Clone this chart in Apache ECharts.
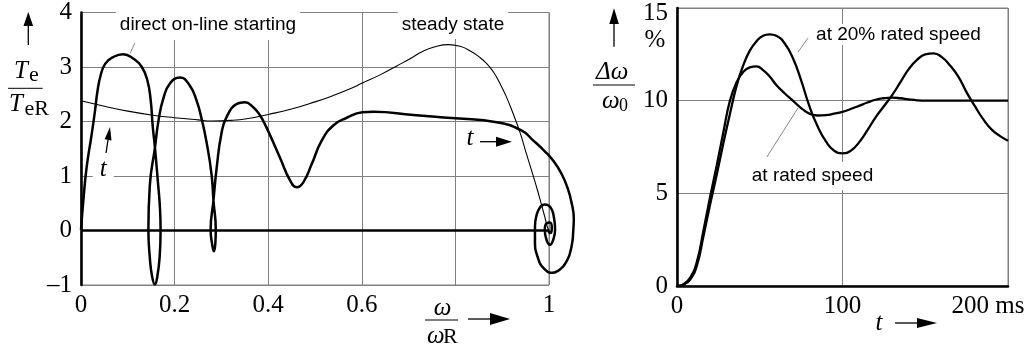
<!DOCTYPE html>
<html>
<head>
<meta charset="utf-8">
<script src="https://cdn.jsdelivr.net/npm/echarts@6/dist/echarts.min.js"></script>
<style>
  html, body { margin: 0; padding: 0; background: #fff; }
  #chart { width: 1029px; height: 349px; }
</style>
</head>
<body>
<div id="chart"></div>
<script>
// left: torque against speed, direct on-line starting (omega/omegaR, Te/TeR)
var startSpeed = [0, 0.005, 0.012, 0.023, 0.030, 0.035, 0.042, 0.052, 0.069, 0.090, 0.112, 0.130, 0.142, 0.149, 0.153, 0.158, 0.164, 0.169, 0.170, 0.168, 0.163, 0.158, 0.152, 0.147, 0.144, 0.147, 0.158, 0.166, 0.176, 0.190, 0.2115, 0.232, 0.247, 0.258, 0.268, 0.279, 0.283, 0.288, 0.287, 0.284, 0.280, 0.277, 0.283, 0.290, 0.300, 0.311, 0.333, 0.350, 0.368, 0.382, 0.396, 0.425, 0.447, 0.461, 0.475, 0.493, 0.514, 0.539, 0.568, 0.601, 0.625, 0.710, 0.800, 0.888, 0.941, 0.966, 0.990, 1.010, 1.027, 1.040, 1.048, 1.053, 1.052, 1.048, 1.035, 1.020, 1.008, 0.990, 0.976, 0.970, 0.970, 0.973, 0.981, 0.991, 1.003, 1.010, 1.013, 1.009, 1.002, 0.995, 0.991, 0.995, 1.002, 1.006, 1.002, 0.998, 1.000];
var startTorque = [0, 0.53, 1.13, 1.74, 2.16, 2.50, 2.80, 3.01, 3.13, 3.18, 3.10, 2.95, 2.70, 2.34, 1.90, 1.49, 0.90, 0.35, 0, -0.50, -0.85, -0.99, -0.85, -0.50, 0, 0.80, 1.49, 2.00, 2.38, 2.65, 2.76, 2.62, 2.34, 2.00, 1.60, 1.00, 0.53, 0, -0.25, -0.39, -0.25, 0, 0.53, 1.13, 1.74, 2.04, 2.28, 2.31, 2.22, 2.08, 1.86, 1.31, 0.89, 0.77, 0.86, 1.19, 1.61, 1.89, 2.03, 2.13, 2.14, 2.08, 2.02, 1.95, 1.80, 1.62, 1.43, 1.24, 1.01, 0.75, 0.50, 0.20, 0, -0.31, -0.61, -0.74, -0.78, -0.71, -0.50, -0.20, 0.05, 0.25, 0.41, 0.46, 0.41, 0.25, 0, -0.18, -0.27, -0.19, 0, 0.12, 0.13, 0.03, -0.06, 0, 0];
// steady state torque curve
var steadySpeed = [0, 0.05, 0.10, 0.15, 0.20, 0.25, 0.28, 0.32, 0.354, 0.40, 0.45, 0.50, 0.54, 0.575, 0.60, 0.64, 0.675, 0.705, 0.731, 0.76, 0.785, 0.81, 0.831, 0.85, 0.867, 0.882, 0.895, 0.908, 0.92, 0.938, 0.952, 0.966, 0.976, 0.984, 0.991, 0.996, 1.0];
var steadyTorque = [2.38, 2.28, 2.19, 2.12, 2.07, 2.03, 2.01, 2.02, 2.05, 2.13, 2.23, 2.36, 2.48, 2.60, 2.70, 2.86, 3.02, 3.16, 3.29, 3.38, 3.41, 3.38, 3.30, 3.19, 3.06, 2.90, 2.70, 2.47, 2.22, 1.80, 1.40, 1.01, 0.72, 0.47, 0.25, 0.08, 0];

// right: speed deviation (%) against time (ms)
var timeMs = [0, 4, 8, 12, 16, 20, 24, 28, 32, 36, 40, 44, 48, 52, 56, 60, 65, 70, 75, 80, 85, 90, 95, 100, 105, 110, 115, 120, 125, 130, 135, 140, 145, 150, 155, 160, 165, 170, 175, 180, 185, 190, 195, 200];
var dwRated = [0, 0.1, 0.45, 1.3, 3.0, 4.8, 6.5, 8.3, 10.0, 11.0, 11.55, 11.8, 11.85, 11.65, 11.3, 10.85, 10.4, 10.0, 9.6, 9.3, 9.2, 9.22, 9.3, 9.4, 9.55, 9.72, 9.9, 10.05, 10.13, 10.16, 10.13, 10.07, 10.02, 10.0, 10.0, 10.0, 10.0, 10.0, 10.0, 10.0, 10.0, 10.0, 10.0, 10.0];
var dw20 = [0, 0.08, 0.35, 1.1, 2.7, 4.4, 6.0, 7.7, 9.3, 10.8, 11.9, 12.7, 13.2, 13.5, 13.58, 13.5, 13.1, 12.3, 11.1, 9.7, 8.6, 7.8, 7.3, 7.16, 7.3, 7.75, 8.4, 9.1, 9.7, 10.3, 11.0, 11.7, 12.2, 12.5, 12.55, 12.35, 11.9, 11.3, 10.45, 9.7, 9.0, 8.45, 8.1, 7.84];

// tick labels
var leftXTicks = [0, 0.2, 0.4, 0.6, 0.8, 1];
var leftXLabels = ['0', '0.2', '0.4', '0.6', '', '1'];
var leftYTicks = [-1, 0, 1, 2, 3, 4];
var leftYLabels = ['\u20131', '0', '1', '2', '3', '4'];
var rightXTicks = [0, 100, 200];
var rightXLabels = ['0', '100', '200 ms'];
var rightYTicks = [0, 5, 10, 15];
var rightYLabels = ['0', '5', '10', '15'];

// leader lines of the annotations and the zero line (data units)
var zeroLine = [[0, 0], [1, 0]];
var leaderStart = [[0.115, 3.44], [0.105, 3.25]];
var leader20 = [[79.2, 13.38], [73.1, 12.62]];
var leaderRated = [[54.3, 6.96], [73.1, 9.6]];

var SERIF = "'Liberation Serif', 'Times New Roman', serif";
var SANS = "'Liberation Sans', Arial, sans-serif";
var GRIDC = '#808080';

function zip(xs, ys) {
  return xs.map(function (x, i) { return [x, ys[i]]; });
}
function pick(ticks, labels) {
  return function (v) {
    for (var i = 0; i < ticks.length; i++) {
      if (Math.abs(v - ticks[i]) < 1e-6) return labels[i];
    }
    return '';
  };
}
function leader(pts, style) {
  var a = { coord: pts[0] };
  if (style) a.lineStyle = style;
  return [a, { coord: pts[1] }];
}

var chart = echarts.init(document.getElementById('chart'));

// text helpers for titles and notes
function txt(x, y, s, size, opt) {
  opt = opt || {};
  return {
    type: 'text', x: x, y: y, z: opt.z || 5,
    style: {
      text: s,
      fontFamily: opt.family || SERIF,
      fontSize: size,
      fontStyle: opt.italic ? 'italic' : 'normal',
      fill: '#000',
      align: opt.align || 'left',
      verticalAlign: 'middle',
      backgroundColor: opt.bg,
      padding: opt.padding
    }
  };
}
function seg(x1, y1, x2, y2, w, color) {
  return { type: 'line', z: 5, shape: { x1: x1, y1: y1, x2: x2, y2: y2 },
    style: { stroke: color || '#000', lineWidth: w || 1.3 } };
}
function tri(pts) {
  return { type: 'polygon', z: 5, shape: { points: pts }, style: { fill: '#000' } };
}

var graphics = [
  // left y title
  seg(28.3, 45, 28.3, 24), tri([[23.5, 26], [33.1, 26], [28.3, 12]]),
  txt(14, 71.7, 'T', 25, { italic: true }),
  txt(29, 75.6, 'e', 22),
  seg(8, 88.3, 42.7, 88.3, 1),
  txt(9, 104.2, 'T', 25, { italic: true }),
  txt(24.5, 109, 'eR', 22),
  // left x title
  txt(442.5, 308.3, '\u03c9', 25, { italic: true, align: 'center' }),
  seg(425, 320, 458, 320, 1),
  txt(427, 336.3, '\u03c9', 25, { italic: true }),
  txt(443, 337.5, 'R', 22),
  seg(468, 319, 492, 319), tri([[490, 313], [490, 325], [510, 319]]),
  // right y title
  seg(614, 46.7, 614, 22), tri([[609.3, 24], [618.9, 24], [614, 8.3]]),
  txt(655, 40, '%', 25, { align: 'center' }),
  txt(596, 72.5, '\u0394\u03c9', 25, { italic: true }),
  seg(593, 85, 635, 85, 1),
  txt(602, 101.5, '\u03c9', 25, { italic: true }),
  txt(619, 106, '0', 18),
  // right x title
  txt(879, 323.5, 't', 25, { italic: true, align: 'center' }),
  seg(895, 323, 919, 323), tri([[917, 318], [917, 328], [937, 323]]),
  // time arrows inside left plot
  txt(103.3, 169.3, 't', 25, { italic: true, align: 'center', bg: '#fff', padding: [0, 7, 0, 7], z: 1 }),
  seg(106, 153, 108, 140), tri([[111.5, 140.4], [104.6, 139.3], [110, 127]]),
  txt(470, 138.8, 't', 25, { italic: true, align: 'center' }),
  seg(480, 141.7, 498, 141.7), tri([[496, 136.7], [496, 146.7], [512, 141.7]]),
  // notes
  txt(208, 24.4, 'direct on-line starting', 19, { family: SANS, align: 'center', bg: '#fff', padding: [4, 4, 8, 4], z: 1 }),
  txt(453, 24.4, 'steady state', 19, { family: SANS, align: 'center', bg: '#fff', padding: [4, 4, 6, 4], z: 1 }),
  txt(898.5, 34.4, 'at 20% rated speed', 19, { family: SANS, align: 'center', bg: '#fff', padding: [2, 4, 0, 4], z: 1 }),
  txt(812.5, 176, 'at rated speed', 19, { family: SANS, align: 'center', bg: '#fff', padding: [2, 4, 7, 4], z: 1 })
];

var leaderStyle = { color: '#6a6a6a', width: 0.8, type: 'solid' };
var hiddenAxis = { show: false, axisLine: { show: false }, splitLine: { show: false }, axisLabel: { show: false }, axisTick: { show: false } };

chart.setOption({
  animation: false,
  backgroundColor: '#fff',
  grid: [
    { left: 81, top: 9, width: 468, height: 276, show: true, borderColor: GRIDC, borderWidth: 1, backgroundColor: 'transparent' },
    { left: 677, top: 8, width: 331, height: 278, show: true, borderColor: GRIDC, borderWidth: 1, backgroundColor: 'transparent' },
    // same scale as the left plot, but wider so the speed overshoot past 1 is not cut off
    { left: 81, top: 9, width: 468 * 1.1, height: 276, show: false }
  ],
  xAxis: [
    {
      gridIndex: 0, type: 'value', min: 0, max: 1, interval: 0.2,
      axisLine: { show: true, lineStyle: { color: GRIDC, width: 1 } },
      axisTick: { show: false },
      splitLine: { show: true, lineStyle: { color: GRIDC, width: 1 } },
      axisLabel: { formatter: pick(leftXTicks, leftXLabels), fontFamily: SERIF, fontSize: 25, color: '#000', margin: 8 }
    },
    {
      gridIndex: 1, type: 'value', min: 0, max: 200, interval: 100,
      axisLine: { show: true, lineStyle: { color: '#000', width: 2.6 } },
      axisTick: { show: false },
      splitLine: { show: true, lineStyle: { color: GRIDC, width: 1 } },
      axisLabel: {
        formatter: function (v) {
          var s = pick(rightXTicks, rightXLabels)(v);
          return v === 200 ? '{ms|' + s + '}' : s;
        },
        rich: { ms: { fontFamily: SERIF, fontSize: 25, color: '#000', padding: [0, 40, 0, 0] } },
        fontFamily: SERIF, fontSize: 25, color: '#000', margin: 8
      }
    },
    Object.assign({ gridIndex: 2, type: 'value', min: 0, max: 1.1 }, hiddenAxis)
  ],
  yAxis: [
    {
      gridIndex: 0, type: 'value', min: -1, max: 4, interval: 1,
      axisLine: { show: true, lineStyle: { color: '#000', width: 2.6 } },
      axisTick: { show: false },
      splitLine: { show: true, lineStyle: { color: GRIDC, width: 1 } },
      axisLabel: { formatter: pick(leftYTicks, leftYLabels), fontFamily: SERIF, fontSize: 25, color: '#000', margin: 9, padding: [5, 0, 0, 0] }
    },
    {
      gridIndex: 1, type: 'value', min: 0, max: 15, interval: 5,
      axisLine: { show: true, lineStyle: { color: '#000', width: 2.6 } },
      axisTick: { show: false },
      splitLine: { show: true, lineStyle: { color: GRIDC, width: 1 } },
      axisLabel: {
        formatter: function (v) {
          var s = pick(rightYTicks, rightYLabels)(v);
          return v === 15 ? '{top|' + s + '}' : s;
        },
        rich: { top: { fontFamily: SERIF, fontSize: 25, color: '#000', padding: [10, 0, 0, 0] } },
        fontFamily: SERIF, fontSize: 25, color: '#000', margin: 9
      }
    },
    Object.assign({ gridIndex: 2, type: 'value', min: -1, max: 4 }, hiddenAxis)
  ],
  series: [
    {
      name: 'steady state', type: 'line', xAxisIndex: 0, yAxisIndex: 0,
      data: zip(steadySpeed, steadyTorque),
      showSymbol: false, smooth: true,
      lineStyle: { color: '#000', width: 1.1 },
      markLine: {
        silent: true, symbol: ['none', 'none'], label: { show: false },
        data: [
          leader(zeroLine, { color: '#000', width: 2.5, type: 'solid' }),
          leader(leaderStart)
        ],
        lineStyle: leaderStyle
      }
    },
    {
      name: 'direct on-line starting', type: 'line', xAxisIndex: 2, yAxisIndex: 2,
      data: zip(startSpeed, startTorque),
      showSymbol: false, smooth: true,
      lineStyle: { color: '#000', width: 2.5 }
    },
    {
      name: 'at rated speed', type: 'line', xAxisIndex: 1, yAxisIndex: 1,
      data: zip(timeMs, dwRated),
      showSymbol: false, smooth: true,
      lineStyle: { color: '#000', width: 2.3 },
      markLine: {
        silent: true, symbol: ['none', 'none'], label: { show: false },
        data: [leader(leaderRated)], lineStyle: leaderStyle
      }
    },
    {
      name: 'at 20% rated speed', type: 'line', xAxisIndex: 1, yAxisIndex: 1,
      data: zip(timeMs, dw20),
      showSymbol: false, smooth: true,
      lineStyle: { color: '#000', width: 2.3 },
      markLine: {
        silent: true, symbol: ['none', 'none'], label: { show: false },
        data: [leader(leader20)], lineStyle: leaderStyle
      }
    }
  ],
  graphic: graphics
});
</script>
</body>
</html>
